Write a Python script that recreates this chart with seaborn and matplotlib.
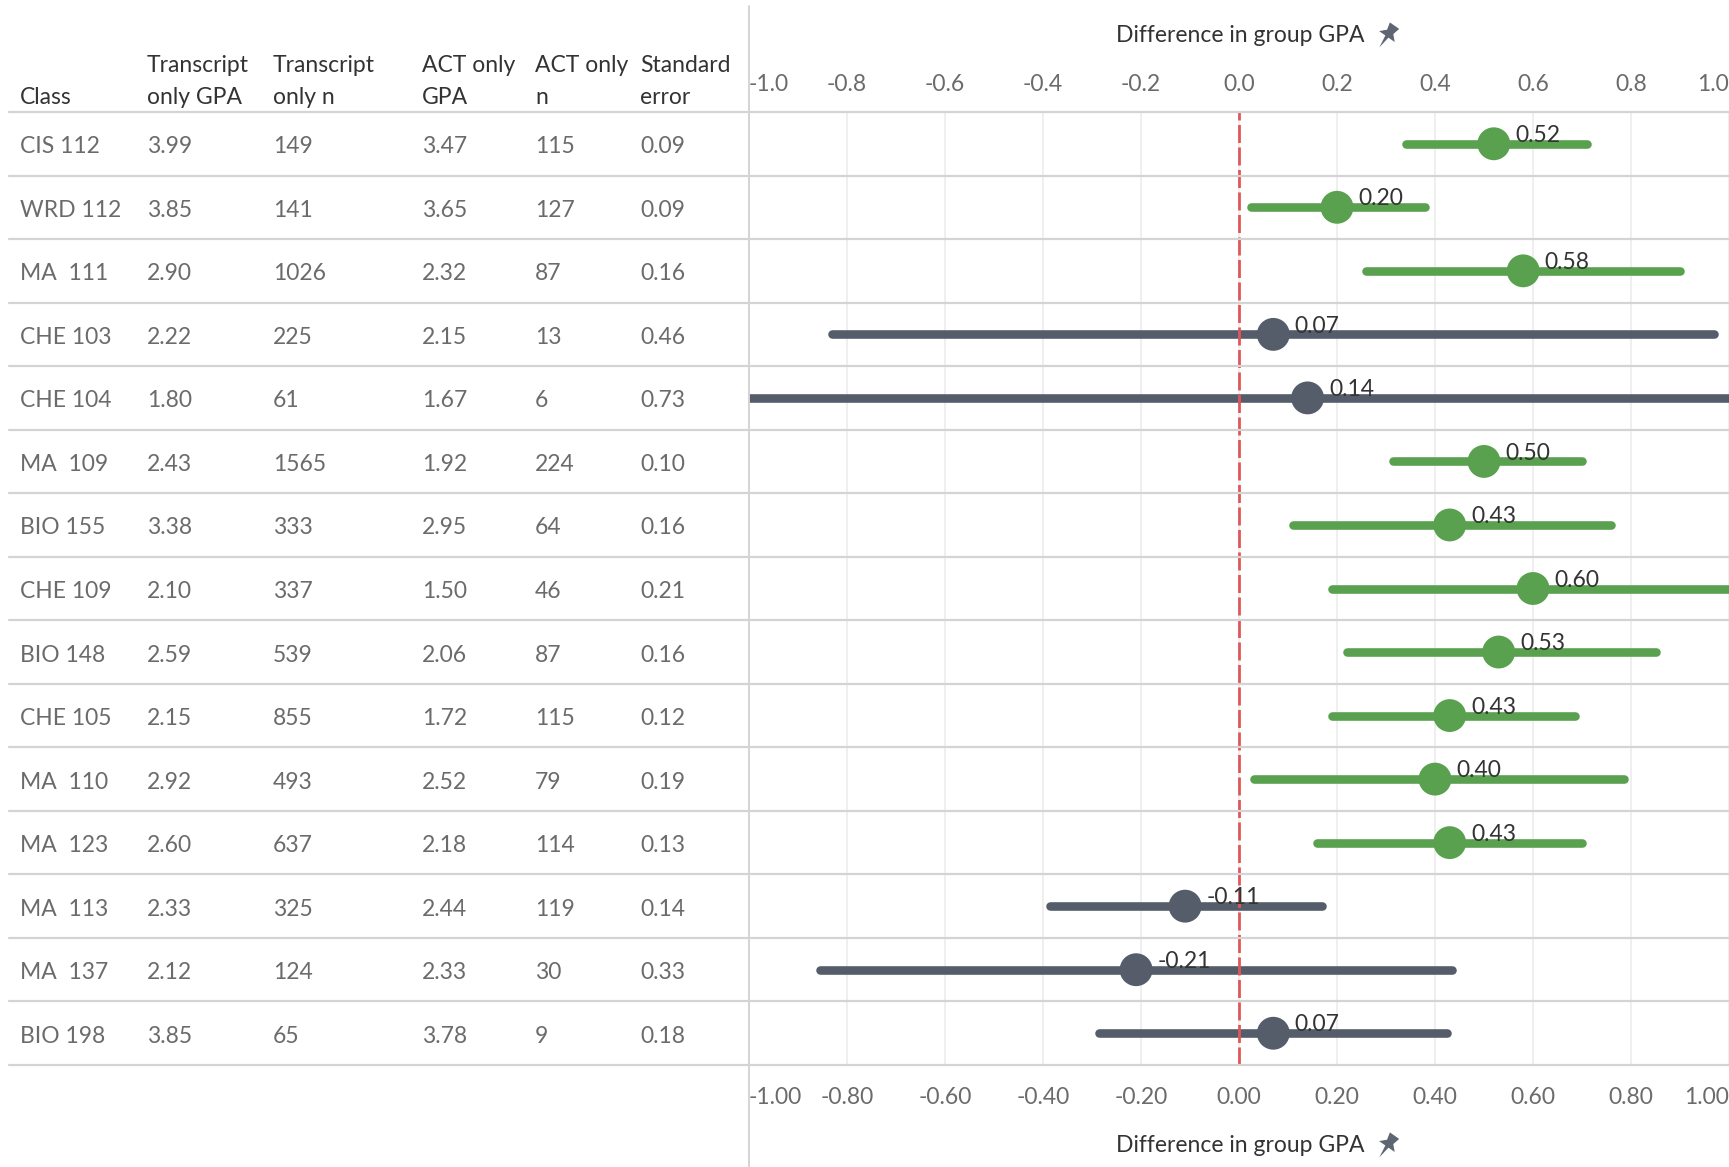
import matplotlib
matplotlib.use("Agg")
import matplotlib.pyplot as plt
import matplotlib.transforms as mtransforms
from matplotlib.lines import Line2D
import matplotlib.patches as mpatches
import seaborn as sns
import pandas as pd
import numpy as np

# ---------------- data ----------------
classes = ["CIS 112", "WRD 112", "MA  111", "CHE 103", "CHE 104", "MA  109", "BIO 155",
           "CHE 109", "BIO 148", "CHE 105", "MA  110", "MA  123", "MA  113", "MA  137", "BIO 198"]
transcript_gpa = ["3.99", "3.85", "2.90", "2.22", "1.80", "2.43", "3.38", "2.10", "2.59", "2.15",
                  "2.92", "2.60", "2.33", "2.12", "3.85"]
transcript_n = ["149", "141", "1026", "225", "61", "1565", "333", "337", "539", "855",
                "493", "637", "325", "124", "65"]
act_gpa = ["3.47", "3.65", "2.32", "2.15", "1.67", "1.92", "2.95", "1.50", "2.06", "1.72",
           "2.52", "2.18", "2.44", "2.33", "3.78"]
act_n = ["115", "127", "87", "13", "6", "224", "64", "46", "87", "115",
         "79", "114", "119", "30", "9"]
std_err = ["0.09", "0.09", "0.16", "0.46", "0.73", "0.10", "0.16", "0.21", "0.16", "0.12",
           "0.19", "0.13", "0.14", "0.33", "0.18"]
diff = [0.52, 0.20, 0.58, 0.07, 0.14, 0.50, 0.43, 0.60, 0.53, 0.43, 0.40, 0.43, -0.11, -0.21, 0.07]
ci_low = [0.34, 0.025, 0.26, -0.83, -1.29, 0.315, 0.11, 0.19, 0.22, 0.19, 0.03, 0.16, -0.385, -0.855, -0.285]
ci_high = [0.71, 0.38, 0.90, 0.97, 1.57, 0.70, 0.76, 1.01, 0.85, 0.685, 0.785, 0.70, 0.17, 0.435, 0.425]

header_lines = [("Class", ""), ("Transcript", "only GPA"), ("Transcript", "only n"),
                ("ACT only", "GPA"), ("ACT only", "n"), ("Standard", "error")]
top_ticks = [-1.0, -0.8, -0.6, -0.4, -0.2, 0.0, 0.2, 0.4, 0.6, 0.8, 1.0]
axis_title = "Difference in group GPA"

# ---------------- style ----------------
sns.set_theme(style="white")
plt.rcParams["font.family"] = ["Lato", "DejaVu Sans"]

GREEN = "#59a14f"
GRAY = "#555d6b"
RED = "#e15759"
SEP = "#d4d4d4"
TXT = "#6b6b6b"
HDR = "#333333"
FS = 16.5

W, H = 1729, 1167
fig = plt.figure(figsize=(W / 100, H / 100), dpi=100)

ax_left = 749 / W
ax_top = 1 - 112 / H
ax_bot = 1 - 1065 / H
ax = fig.add_axes([ax_left, ax_bot, 1 - ax_left, ax_top - ax_bot])

n = len(classes)
df = pd.DataFrame({"cls": classes, "diff": diff, "lo": ci_low, "hi": ci_high,
                   "y": np.arange(n)})
df["sig"] = np.where(df["lo"] > 0, "pos", "ns")
palette = {"pos": GREEN, "ns": GRAY}

ax.set_xlim(-1.0, 1.0)
ax.set_ylim(n - 0.5, -0.5)

# grid
for t in top_ticks:
    ax.axvline(t, color="#ececec", lw=1.2, zorder=0)

# CI lines
for sig, sub in df.groupby("sig"):
    lc = ax.hlines(sub["y"], sub["lo"], sub["hi"], color=palette[sig], lw=6.2, zorder=2)
    lc.set_capstyle("round")

# reference line
ax.axvline(0, color=RED, lw=2, dashes=(6.5, 1.6), zorder=3)

# dots
sns.scatterplot(data=df, x="diff", y="y", hue="sig", palette=palette, s=560,
                edgecolor="none", legend=False, ax=ax, zorder=4)

# value labels
for _, r in df.iterrows():
    ax.annotate(f"{r['diff']:.2f}", (r["diff"], r["y"]), xytext=(15.5, 6.0),
                textcoords="offset points", ha="left", va="center",
                fontsize=FS, color=HDR, zorder=5)

# axes decoration
for s in ax.spines.values():
    s.set_visible(False)
ax.set_yticks([])
ax.set_xlabel("")
ax.set_ylabel("")
ax.set_xticks(top_ticks)
ax.set_xticklabels([f"{t:.2f}" for t in top_ticks])
ax.tick_params(axis="x", length=0, pad=15.5, labelsize=FS, labelcolor=TXT)
for lbl, t in zip(ax.get_xticklabels(), top_ticks):
    if t == -1.0:
        lbl.set_ha("left")
    elif t == 1.0:
        lbl.set_ha("right")

sec = ax.secondary_xaxis("top")
sec.set_xticks(top_ticks)
sec.set_xticklabels([f"{t:.1f}" for t in top_ticks])
sec.tick_params(axis="x", length=0, pad=12, labelsize=FS, labelcolor=TXT)
for s in sec.spines.values():
    s.set_visible(False)
for lbl, t in zip(sec.get_xticklabels(), top_ticks):
    if t == -1.0:
        lbl.set_ha("left")
    elif t == 1.0:
        lbl.set_ha("right")

# axis titles with pin icon
def pin(xc, yc, scale=1.9):
    sx, sy = 1 / W, 1 / H
    verts = [(-3, 6), (3, 6), (2, 2), (5, -1), (1, -1), (0, -8), (-1, -1), (-5, -1), (-2, 2), (-3, 6)]
    ang = np.deg2rad(-35)
    rot = [(x * np.cos(ang) - y * np.sin(ang), x * np.sin(ang) + y * np.cos(ang)) for x, y in verts]
    pts = [(xc + x * sx * scale, yc + y * sy * scale) for x, y in rot]
    fig.add_artist(mpatches.Polygon(pts, closed=True, transform=fig.transFigure,
                                    facecolor="#5f6673", edgecolor="none"))

for ytitle in (1 - 35 / H, 1 - 1145 / H):
    fig.text(1364 / W, ytitle, axis_title, ha="right", va="center", fontsize=FS, color=HDR)
    pin(1388 / W, ytitle)

# table on the left
blend = mtransforms.blended_transform_factory(fig.transFigure, ax.transData)
blend_txt = mtransforms.offset_copy(blend, fig=fig, x=0, y=-3, units="dots")
col_x = [20, 147, 273, 422, 535, 640]
columns = [classes, transcript_gpa, transcript_n, act_gpa, act_n, std_err]
for cx, col in zip(col_x, columns):
    for i, v in enumerate(col):
        fig.text(cx / W, i, v, transform=blend_txt, ha="left", va="center", fontsize=FS,
                 color=TXT)

for cx, (l1, l2) in zip(col_x, header_lines):
    if l2:
        fig.text(cx / W, 1 - 65 / H, l1, ha="left", va="center", fontsize=FS, color=HDR)
        fig.text(cx / W, 1 - 98 / H, l2, ha="left", va="center", fontsize=FS, color=HDR)
    else:
        fig.text(cx / W, 1 - 98 / H, l1, ha="left", va="center", fontsize=FS, color=HDR)

# row separators
for b in np.arange(-0.5, n + 0.5, 1.0):
    fig.add_artist(Line2D([9 / W, 1.0], [b, b], transform=blend, color=SEP, lw=1.6, zorder=1))

# vertical separator
fig.add_artist(Line2D([ax_left, ax_left], [1 - 6 / H, 0], transform=fig.transFigure,
                      color=SEP, lw=1.4))

fig.savefig("out.png", dpi=100, facecolor="white")
